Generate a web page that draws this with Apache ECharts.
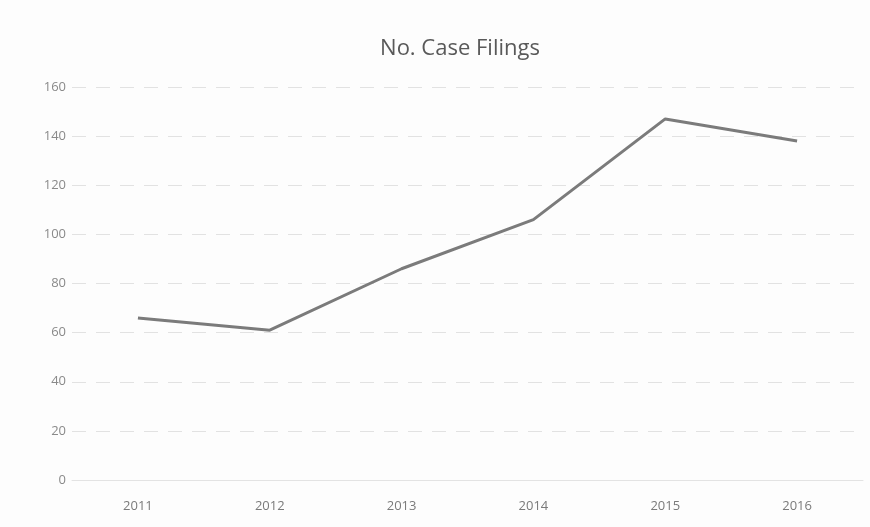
<!DOCTYPE html>
<html>
<head>
<meta charset="utf-8">
<script src="https://cdn.jsdelivr.net/npm/echarts@6/dist/echarts.min.js"></script>
<style>
html,body{margin:0;padding:0;background:#fdfdfd;}
#chart{width:870px;height:527px;}
</style>
</head>
<body>
<div id="chart"></div>
<script>
const titleText = "No. Case Filings";
const years = ["2011", "2012", "2013", "2014", "2015", "2016"];
const filings = [66, 61, 86, 106, 147, 138];

const chart = echarts.init(document.getElementById('chart'));
chart.setOption({
  backgroundColor: '#fdfdfd',
  animation: false,
  title: {
    text: titleText,
    left: 455,
    top: 33,
    textAlign: 'center',
    textStyle: { color: '#595959', fontSize: 22, fontWeight: 'normal', fontFamily: 'Open Sans' }
  },
  grid: { left: 72, right: 7, top: 87, bottom: 47 },
  xAxis: {
    type: 'category',
    data: years,
    boundaryGap: true,
    axisLine: { show: true, lineStyle: { color: '#e3e3e3' } },
    axisTick: { show: false },
    axisLabel: { color: '#7a7a7a', fontSize: 13, margin: 20, fontFamily: 'Open Sans' }
  },
  yAxis: {
    type: 'value',
    min: 0, max: 160, interval: 20,
    axisLine: { show: false },
    axisTick: { show: false },
    axisLabel: { color: '#8a8a8a', fontSize: 13, margin: 6, fontFamily: 'Open Sans' },
    splitLine: { lineStyle: { color: '#e2e2e2', type: [14, 10] } }
  },
  series: [{
    type: 'line',
    data: filings,
    symbol: 'none',
    lineStyle: { color: '#7b7b7b', width: 3 }
  }]
});
</script>
</body>
</html>
